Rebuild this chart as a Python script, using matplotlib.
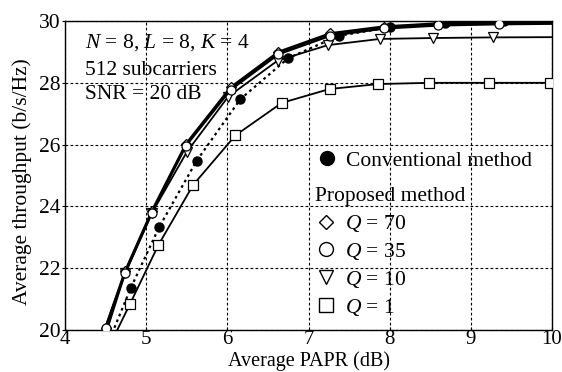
import matplotlib as mpl
import matplotlib.pyplot as plt
from matplotlib.lines import Line2D

mpl.use("Agg")

IMAGE_DPI = 100.0

# Average PAPR (dB) / average throughput (b/s/Hz)
papr_q70 = [4.50, 4.74, 5.07, 5.49, 6.04, 6.63, 7.27, 7.93, 8.60, 9.35, 10.20]
thr_q70 = [20.08, 21.90, 23.85, 26.02, 27.85, 29.00, 29.60, 29.82, 29.92, 29.96, 29.97]

papr_q35 = [4.50, 4.74, 5.07, 5.49, 6.04, 6.63, 7.27, 7.93, 8.60, 9.35, 10.20]
thr_q35 = [20.08, 21.85, 23.80, 25.97, 27.78, 28.93, 29.53, 29.76, 29.86, 29.90, 29.92]

papr_q10 = [4.50, 4.74, 5.07, 5.50, 6.01, 6.62, 7.24, 7.88, 8.54, 9.27, 10.20]
thr_q10 = [19.85, 21.83, 23.78, 25.76, 27.55, 28.72, 29.22, 29.42, 29.45, 29.47, 29.48]

papr_q1 = [4.55, 4.80, 5.15, 5.58, 6.10, 6.67, 7.26, 7.86, 8.49, 9.22, 9.98]
thr_q1 = [19.50, 20.84, 22.75, 24.70, 26.30, 27.35, 27.80, 27.96, 28.00, 28.00, 28.00]

papr_conv = [4.55, 4.81, 5.16, 5.62, 6.16, 6.75, 7.37, 8.01, 8.68, 9.41, 10.20]
thr_conv = [19.70, 21.36, 23.33, 25.47, 27.47, 28.80, 29.52, 29.80, 29.93, 30.00, 30.02]

x_ticks = [4, 5, 6, 7, 8, 9, 10]
y_ticks = [20, 22, 24, 26, 28, 30]

plt.rcParams["font.family"] = ["Liberation Serif", "DejaVu Serif"]
plt.rcParams["font.size"] = 15.5
plt.rcParams["mathtext.fontset"] = "custom"
plt.rcParams["mathtext.rm"] = "Liberation Serif"
plt.rcParams["mathtext.it"] = "Liberation Serif:italic"

fig = plt.figure(figsize=(562 / IMAGE_DPI, 372 / IMAGE_DPI), dpi=IMAGE_DPI)
ax = fig.add_axes([0.1157, 0.1129, 0.8665, 0.8306])

open_marker = dict(markerfacecolor="white", markeredgecolor="black", markeredgewidth=0.9)

ax.plot(papr_q1, thr_q1, color="black", linewidth=1.3, marker="s", markersize=6.5, **open_marker, zorder=3)
ax.plot(papr_conv, thr_conv, color="black", linewidth=1.6, linestyle=(0, (1.2, 1.6)),
        marker="o", markersize=6.5, markerfacecolor="black", markeredgecolor="black", zorder=4)
ax.plot(papr_q10, thr_q10, color="black", linewidth=1.3, marker="v", markersize=6.5, **open_marker, zorder=5)
ax.plot(papr_q70, thr_q70, color="black", linewidth=1.8, marker="D", markersize=5, **open_marker, zorder=6)
ax.plot(papr_q35, thr_q35, color="black", linewidth=1.8, marker="o", markersize=6.5, **open_marker, zorder=7)

ax.set_xlim(4, 10)
ax.set_ylim(20, 30)
ax.set_xticks(x_ticks)
ax.set_yticks(y_ticks)
ax.tick_params(axis="y", direction="out", length=2.5, width=0.8, pad=1)
ax.tick_params(axis="x", direction="in", length=2.5, width=0.8, pad=0, labelsize=15)
ax.grid(True, color="black", linestyle=(0, (2.5, 2)), linewidth=0.8)
for spine in ax.spines.values():
    spine.set_linewidth(1.0)

ax.set_xlabel("Average PAPR (dB)", fontsize=14.5, va="bottom")
ax.xaxis.set_label_coords(0.5, -0.134)
ax.set_ylabel("Average throughput (b/s/Hz)")
ax.yaxis.set_label_coords(-0.068, 0.48)

ax.text(0.04, 0.929, "$N$ = 8, $L$ = 8, $K$ = 4", transform=ax.transAxes, va="center", ha="left")
ax.text(0.04, 0.841, "512 subcarriers", transform=ax.transAxes, va="center", ha="left")
ax.text(0.04, 0.761, "SNR = 20 dB", transform=ax.transAxes, va="center", ha="left")

conv_handle = Line2D([], [], linestyle="none", marker="o", markersize=10,
                     markerfacecolor="black", markeredgecolor="black")
leg1 = ax.legend([conv_handle], ["Conventional method"], loc="center left",
                 bbox_to_anchor=(0.515, 0.547), frameon=False, borderpad=0,
                 handlelength=1.0, handletextpad=0.4, borderaxespad=0)
ax.add_artist(leg1)

prop_handles = [
    Line2D([], [], linestyle="none", marker="D", markersize=7.5, markerfacecolor="white", markeredgecolor="black"),
    Line2D([], [], linestyle="none", marker="o", markersize=10, markerfacecolor="white", markeredgecolor="black"),
    Line2D([], [], linestyle="none", marker="v", markersize=10, markerfacecolor="white", markeredgecolor="black"),
    Line2D([], [], linestyle="none", marker="s", markersize=10, markerfacecolor="white", markeredgecolor="black"),
]
prop_labels = ["$Q$ = 70", "$Q$ = 35", "$Q$ = 10", "$Q$ = 1"]
ax.legend(prop_handles, prop_labels, title="Proposed method", title_fontsize=15.5,
          alignment="left", loc="upper left", bbox_to_anchor=(0.513, 0.462),
          frameon=False, borderpad=0, handlelength=1.0, handletextpad=0.4,
          borderaxespad=0, labelspacing=0.32)

fig.savefig("out.png", dpi=IMAGE_DPI)
